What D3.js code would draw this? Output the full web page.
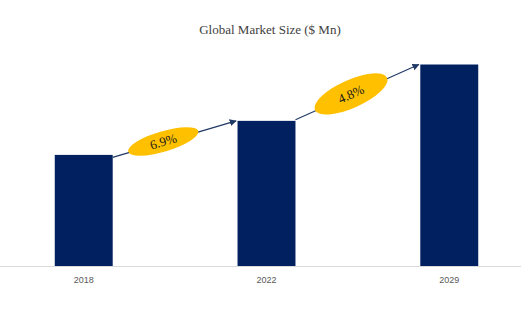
<!DOCTYPE html>
<html>
<head>
<meta charset="utf-8">
<script src="https://cdn.jsdelivr.net/npm/d3@7"></script>
<style>
  html, body { margin: 0; padding: 0; background: #ffffff; }
  svg { display: block; }
</style>
</head>
<body>
<svg id="chart" width="521" height="327"></svg>
<script>
// Market size by year ($ Mn) and the growth rates between the bars
const years = ["2018", "2022", "2029"];
const marketSize = [1100, 1437, 1995];
const cagrLabels = ["6.9%", "4.8%"];
const titleText = "Global Market Size ($ Mn)";

const W = 521, H = 327;
const svg = d3.select("#chart");

const x = d3.scaleBand()
  .domain(years)
  .range([12, 521])
  .paddingInner(0.683)
  .paddingOuter(0.234);

const y = d3.scaleLinear()
  .domain([0, 2000])
  .range([266, 64]);

// title
svg.append("text")
  .attr("x", 270)
  .attr("y", 34)
  .attr("text-anchor", "middle")
  .attr("font-family", "'Liberation Serif', 'Times New Roman', serif")
  .attr("font-size", 13)
  .attr("fill", "#404040")
  .text(titleText);

// bars
svg.append("g")
  .selectAll("rect")
  .data(years)
  .join("rect")
  .attr("x", d => x(d))
  .attr("y", (d, i) => y(marketSize[i]))
  .attr("width", x.bandwidth())
  .attr("height", (d, i) => y(0) - y(marketSize[i]))
  .attr("fill", "#002060");

// x axis
const xAxis = svg.append("g")
  .attr("transform", `translate(0,${y(0)})`)
  .call(d3.axisBottom(x).tickSize(0).tickPadding(11));
xAxis.select(".domain").remove();
xAxis.append("line")
  .attr("x1", 0).attr("x2", W)
  .attr("y1", 0.5).attr("y2", 0.5)
  .attr("stroke", "#d9d9d9")
  .attr("stroke-width", 1.2);
xAxis.selectAll(".tick text")
  .attr("font-family", "'Liberation Sans', Arial, sans-serif")
  .attr("font-size", 9)
  .attr("fill", "#595959");

// arrowhead
svg.append("defs").append("marker")
  .attr("id", "head")
  .attr("viewBox", "0 0 10 10")
  .attr("refX", 9).attr("refY", 5)
  .attr("markerWidth", 7).attr("markerHeight", 7)
  .attr("markerUnits", "userSpaceOnUse")
  .attr("orient", "auto")
  .append("path")
  .attr("d", "M0,0 L10,5 L0,10 Z")
  .attr("fill", "#1f3864");

// growth arrows between consecutive bars, each with a labelled ellipse
const segments = cagrLabels.map((label, i) => {
  const x1 = x(years[i]) + x.bandwidth();
  const y1 = y(marketSize[i]) + (i === 0 ? 2.5 : -1);
  const x2 = x(years[i + 1]) - 1.5;
  const y2 = y(marketSize[i + 1]);
  return { label, x1, y1, x2, y2, i };
});

const ellipseShape = [
  { rx: 36.5, ry: 10.2, t: 0.41 },
  { rx: 39.5, ry: 14, t: 0.45 }
];

const arrows = svg.append("g");
segments.forEach(s => {
  arrows.append("line")
    .attr("x1", s.x1).attr("y1", s.y1)
    .attr("x2", s.x2).attr("y2", s.y2)
    .attr("stroke", "#1f3864")
    .attr("stroke-width", 1.1)
    .attr("marker-end", "url(#head)");

  const e = ellipseShape[s.i];
  const cx = s.x1 + (s.x2 - s.x1) * e.t;
  const cy = s.y1 + (s.y2 - s.y1) * e.t - 1;
  const angle = Math.atan2(s.y2 - s.y1, s.x2 - s.x1) * 180 / Math.PI;

  const g = arrows.append("g")
    .attr("transform", `translate(${cx},${cy}) rotate(${angle})`);
  g.append("ellipse")
    .attr("rx", e.rx).attr("ry", e.ry)
    .attr("fill", "#ffc000");
  g.append("text")
    .attr("text-anchor", "middle")
    .attr("dy", "0.35em")
    .attr("font-family", "'Liberation Serif', 'Times New Roman', serif")
    .attr("font-size", 13)
    .attr("fill", "#1a1a1a")
    .text(s.label);
});
</script>
</body>
</html>
